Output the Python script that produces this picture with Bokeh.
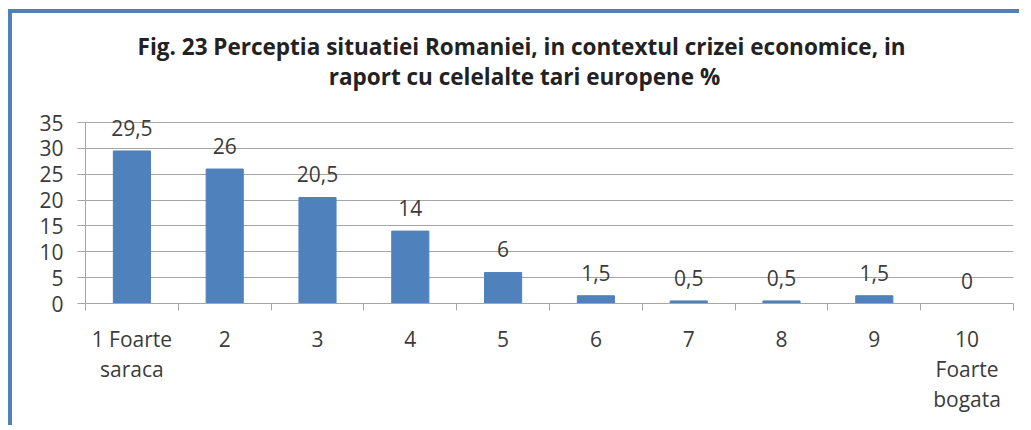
from bokeh.plotting import figure
from bokeh.models import Range1d, FixedTicker
from bokeh.core.properties import value
from bokeh.embed import file_html
from bokeh.resources import INLINE

categories = ["1 Foarte\nsaraca", "2", "3", "4", "5", "6", "7", "8", "9", "10\nFoarte\nbogata"]
values = [29.5, 26, 20.5, 14, 6, 1.5, 0.5, 0.5, 1.5, 0]
value_labels = ["29,5", "26", "20,5", "14", "6", "1,5", "0,5", "0,5", "1,5", "0"]
y_ticks = [0, 5, 10, 15, 20, 25, 30, 35]
title_lines = ["Fig. 23 Perceptia situatiei Romaniei, in contextul crizei economice,  in",
               "raport cu celelalte tari europene %"]

positions = list(range(1, len(categories) + 1))
FONT = "Open Sans"
TXT = "#3b3b3b"
BLUE = "#4f81bd"
GRID = "#a6a6a6"

Y_MAX = 35
FRAME_H = 290          # frame spans title area too; axis is bounded to 0..Y_MAX
AXIS_H = 181           # pixel height for 0..Y_MAX
y_top = Y_MAX * FRAME_H / AXIS_H

p = figure(width=1011, height=416, output_backend="svg", toolbar_location=None,
           x_range=Range1d(0.5, len(categories) + 0.5), y_range=Range1d(0, y_top),
           min_border_left=73, min_border_right=10, min_border_top=0, min_border_bottom=126,
           background_fill_color="white", border_fill_color="white")
p.outline_line_color = None

mid = (len(categories) + 1) / 2
p.text(x=[mid, mid], y=[Y_MAX, Y_MAX], text=title_lines, text_align="center", text_baseline="middle",
       x_offset=-25, y_offset=[-76, -46], text_font=value(FONT), text_font_size="22.5px",
       text_font_style="bold", text_color="#222222")

p.vbar(x=positions, top=values, width=0.4, color=BLUE)
p.text(x=positions, y=values, text=value_labels, text_align="center", text_baseline="alphabetic",
       y_offset=-23, text_font=value(FONT), text_font_size="21px", text_color=TXT)

p.xgrid.grid_line_color = None
p.ygrid.grid_line_color = GRID
p.ygrid.grid_line_width = 1.2

p.yaxis.ticker = FixedTicker(ticks=y_ticks)
p.yaxis.bounds = (0, Y_MAX)
p.yaxis.axis_line_color = GRID
p.yaxis.major_tick_line_color = GRID
p.yaxis.major_tick_out = 8
p.yaxis.major_tick_in = 0
p.yaxis.minor_tick_line_color = None
p.yaxis.major_label_text_font = FONT
p.yaxis.major_label_text_font_size = "21px"
p.yaxis.major_label_text_color = TXT
p.yaxis.major_label_standoff = 14

p.xaxis.ticker = FixedTicker(ticks=positions, minor_ticks=[i + 0.5 for i in range(0, len(categories) + 1)])
p.xaxis.major_label_overrides = {pos: lab for pos, lab in zip(positions, categories)}
p.xaxis.axis_line_color = GRID
p.xaxis.major_tick_line_color = None
p.xaxis.major_tick_out = 0
p.xaxis.major_tick_in = 0
p.xaxis.minor_tick_line_color = GRID
p.xaxis.minor_tick_out = 7
p.xaxis.minor_tick_in = 0
p.xaxis.major_label_text_font = FONT
p.xaxis.major_label_text_font_size = "21px"
p.xaxis.major_label_text_color = TXT
p.xaxis.major_label_standoff = 14
p.xaxis.major_label_text_line_height = 1.08

p.styles = {"border-left": f"4px solid {BLUE}", "border-top": f"4px solid {BLUE}",
            "margin-left": "8px", "margin-top": "9px"}

open("out.html", "w").write(file_html(p, INLINE))
